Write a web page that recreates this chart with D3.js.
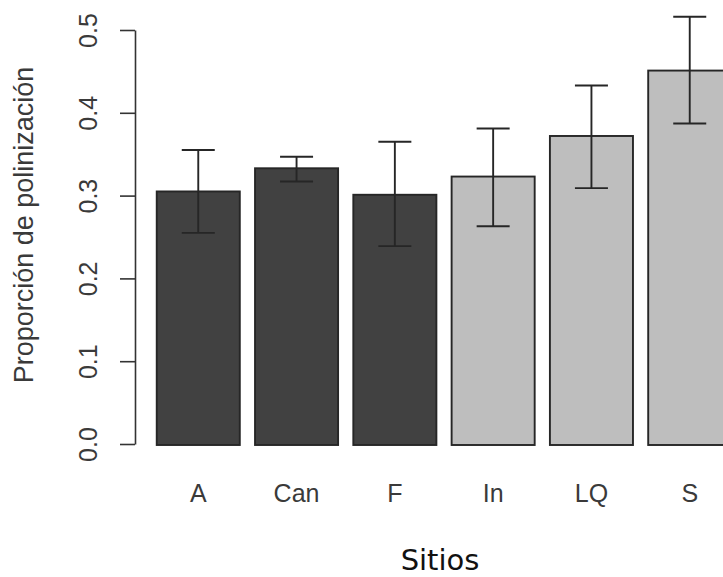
<!DOCTYPE html>
<html>
<head>
<meta charset="utf-8">
<script src="https://cdn.jsdelivr.net/npm/d3@7"></script>
<style>
  html, body { margin: 0; padding: 0; background: #fff; }
  svg { display: block; }
</style>
</head>
<body>
<svg id="chart" width="723" height="577"></svg>
<script>
// Pollination proportion per site (mean with error interval)
const sites = ["A", "Can", "F", "In", "LQ", "S"];
const means = [0.305, 0.333, 0.301, 0.323, 0.372, 0.451];
const lower = [0.255, 0.317, 0.239, 0.263, 0.309, 0.387];
const upper = [0.355, 0.347, 0.365, 0.381, 0.433, 0.516];
const group = ["dark", "dark", "dark", "light", "light", "light"];
const yTicks = [0.0, 0.1, 0.2, 0.3, 0.4, 0.5];
const yTickLabels = ["0.0", "0.1", "0.2", "0.3", "0.4", "0.5"];

const svg = d3.select("#chart");

const x = d3.scaleBand()
  .domain(sites)
  .range([141.5, 746.5])
  .paddingInner(0.155)
  .paddingOuter(0.155);

const y = d3.scaleLinear().domain([0, 0.5]).range([444, 30]);

const fillFor = { dark: "#414141", light: "#bebebe" };

// bars
svg.append("g")
  .selectAll("rect")
  .data(sites)
  .join("rect")
  .attr("x", d => x(d))
  .attr("y", (d, i) => y(means[i]))
  .attr("width", x.bandwidth())
  .attr("height", (d, i) => y(0) - y(means[i]) + 1)
  .attr("fill", (d, i) => fillFor[group[i]])
  .attr("stroke", "#262626")
  .attr("stroke-width", 1.9);

// error bars
const capHalf = 16.5;
const eb = svg.append("g").attr("stroke", "#262626").attr("stroke-width", 1.9).attr("fill", "none");
sites.forEach((s, i) => {
  const cx = x(s) + x.bandwidth() / 2;
  eb.append("line").attr("x1", cx).attr("x2", cx).attr("y1", y(lower[i])).attr("y2", y(upper[i]));
  eb.append("line").attr("x1", cx - capHalf).attr("x2", cx + capHalf).attr("y1", y(upper[i])).attr("y2", y(upper[i]));
  eb.append("line").attr("x1", cx - capHalf).attr("x2", cx + capHalf).attr("y1", y(lower[i])).attr("y2", y(lower[i]));
});

// y axis
const yAxis = d3.axisLeft(y)
  .tickValues(yTicks)
  .tickFormat((d, i) => yTickLabels[i])
  .tickSize(15)
  .tickSizeOuter(0)
  .tickPadding(0);

const ga = svg.append("g").attr("transform", "translate(135,0)").call(yAxis);
ga.select(".domain").attr("stroke", "#333").attr("stroke-width", 1.6);
ga.selectAll(".tick line").attr("stroke", "#333").attr("stroke-width", 1.6);
ga.selectAll(".tick text")
  .attr("x", null).attr("dy", null)
  .attr("transform", "translate(-38,0) rotate(-90)")
  .attr("text-anchor", "middle")
  .attr("font-family", "'Liberation Sans', Arial, sans-serif")
  .attr("font-size", 25)
  .attr("fill", "#3a3a3a");

// x category labels
svg.append("g")
  .selectAll("text")
  .data(sites)
  .join("text")
  .attr("x", d => x(d) + x.bandwidth() / 2)
  .attr("y", 502)
  .attr("text-anchor", "middle")
  .attr("font-family", "'Liberation Sans', Arial, sans-serif")
  .attr("font-size", 25)
  .attr("fill", "#3a3a3a")
  .text(d => d);

// axis titles
svg.append("text")
  .attr("transform", "translate(33,225) rotate(-90)")
  .attr("text-anchor", "middle")
  .attr("font-family", "'Liberation Sans', Arial, sans-serif")
  .attr("font-size", 27)
  .attr("fill", "#3a3a3a")
  .text("Proporción de polinización");

svg.append("text")
  .attr("x", 440)
  .attr("y", 570)
  .attr("text-anchor", "middle")
  .attr("font-family", "'DejaVu Sans', sans-serif")
  .attr("font-size", 29)
  .attr("fill", "#111")
  .text("Sitios");
</script>
</body>
</html>
